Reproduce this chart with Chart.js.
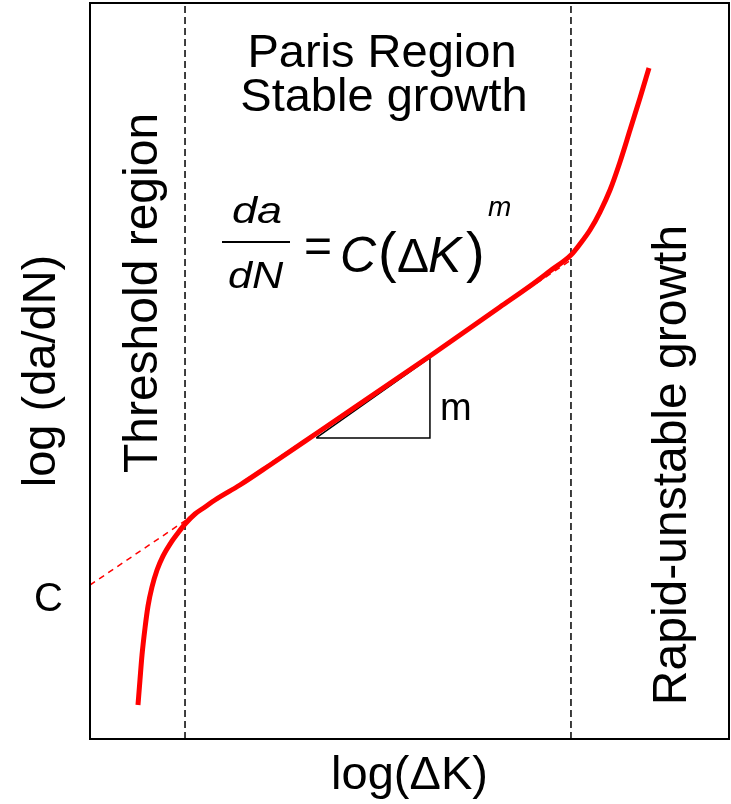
<!DOCTYPE html>
<html lang="en">
<head>
    <meta charset="UTF-8">
    <title>Paris Law Crack Growth</title>
    <script src="https://cdn.jsdelivr.net/npm/chart.js"></script>
    <style>
        body {
            margin: 0;
            padding: 0;
            background: #ffffff;
        }
        #crackChart {
            display: block;
        }
    </style>
</head>
<body>
    <canvas id="crackChart" width="731" height="804"></canvas>

    <script>
        // log(dK) / log(da/dN) in arbitrary units, 0..100 on both axes
        const curveX = [7.51, 7.82, 8.14, 8.61, 9.08, 9.70, 10.49, 11.42, 12.52, 13.77, 14.87, 16.43, 18.00, 19.56,
                        23.47, 28.17, 35.99, 53.21, 64.16, 68.86, 71.99, 75.27, 76.68, 78.25, 79.81, 81.38, 82.94, 84.51, 86.07, 87.48];
        const curveY = [4.62, 8.02, 11.41, 15.08, 18.07, 20.65, 22.96, 24.86, 26.49, 27.99, 29.21, 30.57, 31.52, 32.47,
                        34.51, 37.23, 41.85, 52.04, 58.70, 61.55, 63.59, 65.76, 67.26, 69.16, 71.60, 74.59, 78.40, 82.74, 87.09, 91.17];

        // Paris law extrapolation line
        const parisX = [0, 75.27];
        const parisY = [20.92, 65.08];

        // slope triangle
        const triangleX = [35.4, 53.2, 53.2, 35.4];
        const triangleY = [40.9, 40.9, 51.8, 40.9];

        // region boundaries
        const thresholdX = 14.87;
        const rapidX = 75.27;

        const cLevel = 18.9;
        const axisMin = 0;
        const axisMax = 100;

        const FONT = '"Liberation Sans", Arial, sans-serif';

        function toPoints(xs, ys) {
            return xs.map((x, i) => ({ x: x, y: ys[i] }));
        }

        // frame + region labels + equation
        const annotations = {
            id: "annotations",
            afterDraw(chart) {
                const ctx = chart.ctx;
                const area = chart.chartArea;
                ctx.save();

                ctx.strokeStyle = "#000";
                ctx.lineWidth = 2;
                ctx.strokeRect(area.left, area.top, area.right - area.left, area.bottom - area.top);

                ctx.fillStyle = "#000";
                ctx.textBaseline = "alphabetic";
                ctx.textAlign = "center";
                ctx.font = "47px " + FONT;
                ctx.fillText("Paris Region", 382, 67);
                ctx.fillText("Stable growth", 384, 111);

                ctx.save();
                ctx.translate(157, 293);
                ctx.rotate(-Math.PI / 2);
                ctx.font = "48px " + FONT;
                ctx.fillText("Threshold region", 0, 0);
                ctx.restore();

                ctx.save();
                ctx.translate(686, 465);
                ctx.rotate(-Math.PI / 2);
                ctx.font = "48px " + FONT;
                ctx.fillText("Rapid-unstable growth", 0, 0);
                ctx.restore();

                // da/dN = C(dK)^m
                ctx.textAlign = "left";
                ctx.save();
                ctx.translate(232, 223);
                ctx.scale(1.25, 1);
                ctx.font = "italic 36px " + FONT;
                ctx.fillText("da", 0, 0);
                ctx.restore();

                ctx.save();
                ctx.translate(228, 288);
                ctx.scale(1.2, 1);
                ctx.font = "italic 36px " + FONT;
                ctx.fillText("dN", 0, 0);
                ctx.restore();

                ctx.fillRect(222, 241, 68, 2);

                ctx.font = "48px " + FONT;
                ctx.fillText("=", 304, 262);

                ctx.font = "italic 50px " + FONT;
                ctx.fillText("C", 340, 272);
                ctx.font = "56px " + FONT;
                ctx.fillText("(", 378, 271);
                ctx.font = "48px " + FONT;
                ctx.fillText("\u0394", 397, 272);
                ctx.font = "italic 50px " + FONT;
                ctx.fillText("K", 428, 272);
                ctx.font = "56px " + FONT;
                ctx.fillText(")", 466, 271);
                ctx.font = "italic 28px " + FONT;
                ctx.fillText("m", 488, 216);

                ctx.font = "38px " + FONT;
                ctx.fillText("m", 440, 420);

                ctx.restore();
            }
        };

        const ctx = document.getElementById("crackChart").getContext("2d");

        new Chart(ctx, {
            type: "scatter",
            data: {
                datasets: [
                    {
                        label: "da/dN",
                        data: toPoints(curveX, curveY),
                        showLine: true,
                        borderColor: "#ff0000",
                        borderWidth: 5,
                        pointRadius: 0,
                        cubicInterpolationMode: "monotone"
                    },
                    {
                        label: "slope",
                        data: toPoints(triangleX, triangleY),
                        showLine: true,
                        borderColor: "#000",
                        borderWidth: 1.5,
                        pointRadius: 0
                    },
                    {
                        label: "Paris law",
                        data: toPoints(parisX, parisY),
                        showLine: true,
                        borderColor: "#ff0000",
                        borderWidth: 1.5,
                        borderDash: [6, 5],
                        pointRadius: 0
                    },
                    {
                        label: "threshold",
                        data: [{ x: thresholdX, y: axisMin }, { x: thresholdX, y: axisMax }],
                        showLine: true,
                        borderColor: "#000",
                        borderWidth: 1.5,
                        borderDash: [7, 4],
                        pointRadius: 0
                    },
                    {
                        label: "rapid",
                        data: [{ x: rapidX, y: axisMin }, { x: rapidX, y: axisMax }],
                        showLine: true,
                        borderColor: "#000",
                        borderWidth: 1.5,
                        borderDash: [7, 4],
                        pointRadius: 0
                    }
                ]
            },
            options: {
                responsive: false,
                animation: false,
                layout: { padding: { top: 3, right: 2, left: 0, bottom: 0 } },
                plugins: {
                    legend: { display: false },
                    tooltip: { enabled: false }
                },
                scales: {
                    x: {
                        type: "linear",
                        min: axisMin,
                        max: axisMax,
                        grid: { display: false, drawTicks: false },
                        border: { display: false },
                        ticks: { display: false },
                        title: {
                            display: true,
                            text: "log(\u0394K)",
                            color: "#000",
                            font: { family: FONT, size: 47 },
                            padding: { top: 0, bottom: 0 }
                        },
                        afterFit(scale) {
                            scale.height = 65;
                            scale.paddingLeft = 0;
                            scale.paddingRight = 0;
                        }
                    },
                    y: {
                        type: "linear",
                        min: axisMin,
                        max: axisMax,
                        grid: { display: false, drawTicks: false },
                        border: { display: false },
                        afterBuildTicks(scale) { scale.ticks = [{ value: cLevel }]; },
                        ticks: {
                            padding: 27,
                            color: "#000",
                            font: { family: FONT, size: 40 },
                            callback: () => "C"
                        },
                        title: {
                            display: true,
                            text: "log (da/dN)",
                            color: "#000",
                            font: { family: FONT, size: 47 },
                            padding: { top: 14, bottom: 0 }
                        },
                        afterFit(scale) {
                            scale.width = 90;
                            scale.paddingTop = 0;
                            scale.paddingBottom = 0;
                        }
                    }
                }
            },
            plugins: [annotations]
        });
    </script>
</body>
</html>
